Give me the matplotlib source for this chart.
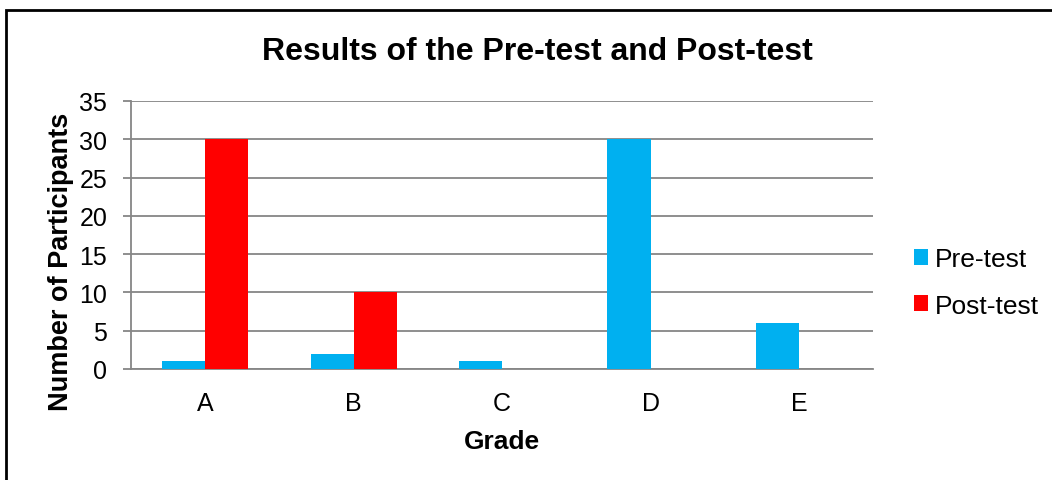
import numpy as np
import matplotlib
matplotlib.use("Agg")
import matplotlib.pyplot as plt
from matplotlib.patches import Rectangle

grades = ["A", "B", "C", "D", "E"]
pre_test = [1, 2, 1, 30, 6]
post_test = [30, 10, 0, 0, 0]

plt.rcParams['font.family'] = ['Liberation Sans', 'DejaVu Sans']
GRID = "#868686"

fig = plt.figure(figsize=(10.52, 4.81), dpi=100)
ax = fig.add_axes([0.1245, 0.231, 0.7055, 0.557])

x = np.arange(len(grades))
w = 0.29
ax.bar(x - w/2, pre_test, w, color="#00B0F0", label="Pre-test", zorder=3)
ax.bar(x + w/2, post_test, w, color="#FF0000", label="Post-test", zorder=3)

ax.set_xlim(-0.5, len(grades) - 0.5)
ax.set_ylim(0, 35)
ax.set_yticks(range(0, 36, 5))
ax.set_xticks(x)
ax.set_xticklabels(grades)
ax.tick_params(axis="y", labelsize=18, length=6, width=1.3, color=GRID, pad=11)
ax.tick_params(axis="x", labelsize=18, length=0, pad=16)
ax.yaxis.grid(True, color=GRID, linewidth=1.3, zorder=0)
for s in ["top", "right"]:
    ax.spines[s].set_visible(False)
for s in ["left", "bottom"]:
    ax.spines[s].set_color(GRID)
    ax.spines[s].set_linewidth(1.3)

fig.text(537/1052, 1 - 52/481, "Results of the Pre-test and Post-test", fontsize=23,
         fontweight="bold", ha="center", va="center")
ax.set_ylabel("Number of Participants", fontsize=19.5, fontweight="bold")
ax.yaxis.set_label_coords(-0.077, 0.405)
ax.set_xlabel("Grade", fontsize=19, fontweight="bold", labelpad=10)

fig.legend(loc="center left", bbox_to_anchor=(0.846, 0.411), frameon=False, fontsize=19,
           handlelength=0.55, handleheight=0.55, handletextpad=0.25, labelspacing=0.85)

fig.patches.append(Rectangle((6/1052, -0.1), 1.2, 1 - 11/481 + 0.1, transform=fig.transFigure,
                             fill=False, edgecolor="black", linewidth=2))

fig.savefig("out.png", dpi=100)
